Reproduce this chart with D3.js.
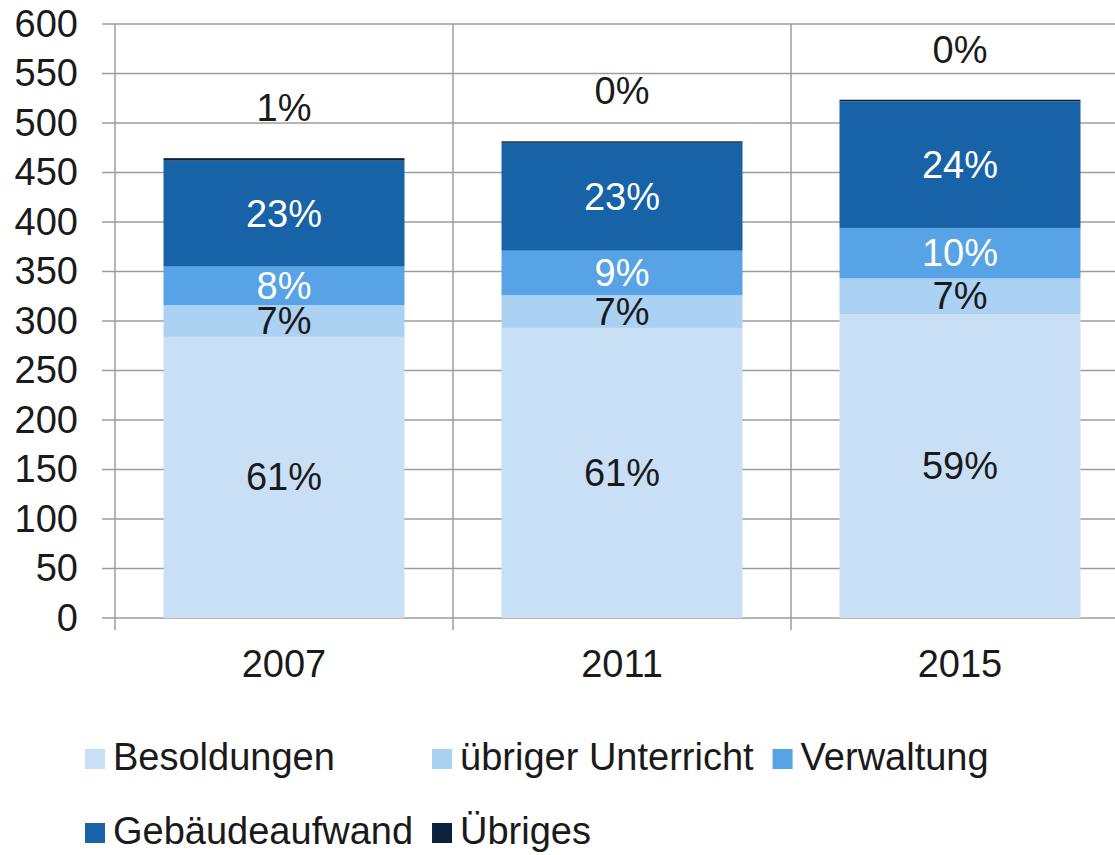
<!DOCTYPE html>
<html>
<head>
<meta charset="utf-8">
<script src="https://cdn.jsdelivr.net/npm/d3@7"></script>
<style>
  html, body { margin: 0; padding: 0; background: #fff; }
  svg { display: block; font-family: "Liberation Sans", Arial, Helvetica, sans-serif; }
</style>
</head>
<body>
<div id="chart"></div>
<script>
// data
var years = ["2007", "2011", "2015"];
var seriesNames = ["Besoldungen", "übriger Unterricht", "Verwaltung", "Gebäudeaufwand", "Übriges"];
var besoldungen = [284, 293, 307];
var uebrigerUnterricht = [32, 33, 36];
var verwaltung = [39, 45, 51];
var gebaeude = [107, 109, 128];
var uebriges = [2.5, 1.5, 1.5];
var yTicks = [0, 50, 100, 150, 200, 250, 300, 350, 400, 450, 500, 550, 600];

var colors = ["#c9dff5", "#abd1f3", "#58a2e6", "#1862a8", "#0b213c"];
var labelColors = ["#1a1a1a", "#1a1a1a", "#ffffff", "#ffffff", "#1a1a1a"];

var width = 1115, height = 855;
var plotLeft = 115, plotRight = 1129, plotTop = 24, plotBottom = 618;
var gridColor = "#9c9c9c";
var fontSize = 38;

var rows = years.map(function (y, i) {
  return {
    year: y,
    "Besoldungen": besoldungen[i],
    "übriger Unterricht": uebrigerUnterricht[i],
    "Verwaltung": verwaltung[i],
    "Gebäudeaufwand": gebaeude[i],
    "Übriges": uebriges[i]
  };
});

var svg = d3.select("#chart").append("svg")
  .attr("width", width)
  .attr("height", height);

var x = d3.scaleBand()
  .domain(years)
  .range([plotLeft, plotRight])
  .paddingInner(0.287)
  .paddingOuter(0.1435);

var y = d3.scaleLinear()
  .domain([0, 600])
  .range([plotBottom, plotTop]);

// horizontal gridlines
svg.append("g").selectAll("line")
  .data(yTicks)
  .enter().append("line")
  .attr("x1", plotLeft - 13)
  .attr("x2", width)
  .attr("y1", function (d) { return y(d); })
  .attr("y2", function (d) { return y(d); })
  .attr("stroke", gridColor)
  .attr("stroke-width", 1.5);

// vertical gridlines at category boundaries
var gap = (x.step() - x.bandwidth()) / 2;
var bounds = years.map(function (c) { return x(c) - gap; });
bounds.push(x(years[years.length - 1]) - gap + x.step());
svg.append("g").selectAll("line")
  .data(bounds)
  .enter().append("line")
  .attr("x1", function (d) { return d; })
  .attr("x2", function (d) { return d; })
  .attr("y1", plotTop)
  .attr("y2", plotBottom + 12)
  .attr("stroke", gridColor)
  .attr("stroke-width", 1.5);

// stacked bars
var stack = d3.stack().keys(seriesNames);
var stacked = stack(rows);

var layers = svg.append("g").selectAll("g")
  .data(stacked)
  .enter().append("g")
  .attr("fill", function (d, i) { return colors[i]; });

layers.selectAll("rect")
  .data(function (d) { return d; })
  .enter().append("rect")
  .attr("x", function (d) { return x(d.data.year); })
  .attr("width", x.bandwidth())
  .attr("y", function (d) { return y(d[1]); })
  .attr("height", function (d) { return y(d[0]) - y(d[1]); });

// percentage labels
function pct(d) {
  var total = d3.sum(seriesNames, function (k) { return d.data[k]; });
  return Math.round((d[1] - d[0]) / total * 100) + "%";
}

stacked.forEach(function (layer, li) {
  var last = li === stacked.length - 1;
  svg.append("g").selectAll("text")
    .data(layer)
    .enter().append("text")
    .attr("x", function (d) { return x(d.data.year) + x.bandwidth() / 2; })
    .attr("y", function (d) {
      return last ? y(d[1]) - 50 : (y(d[0]) + y(d[1])) / 2;
    })
    .attr("text-anchor", "middle")
    .attr("dominant-baseline", "central")
    .attr("font-size", fontSize)
    .attr("fill", labelColors[li])
    .text(pct);
});

// y axis
var yAxis = d3.axisLeft(y)
  .tickValues(yTicks)
  .tickSize(13)
  .tickPadding(24);
var ya = svg.append("g")
  .attr("transform", "translate(" + plotLeft + ",0)")
  .call(yAxis);
ya.select(".domain").remove();
ya.selectAll("line").remove();
ya.selectAll("text")
  .attr("font-size", fontSize)
  .attr("fill", "#1a1a1a")
  .attr("font-family", "Liberation Sans, Arial, sans-serif");

// x axis labels
svg.append("g").selectAll("text")
  .data(years)
  .enter().append("text")
  .attr("x", function (d) { return x(d) + x.bandwidth() / 2; })
  .attr("y", 677)
  .attr("text-anchor", "middle")
  .attr("font-size", fontSize)
  .attr("fill", "#1a1a1a")
  .text(function (d) { return d; });

// legend in a 3-column grid
var legend = svg.append("g");
var legendLeft = 85, rowBase = [770, 844], nCols = 3;
var items = legend.selectAll("g")
  .data(seriesNames)
  .enter().append("g");
items.append("rect")
  .attr("width", 20)
  .attr("height", 20)
  .attr("y", -21)
  .attr("fill", function (d, i) { return colors[i]; });
items.append("text")
  .attr("x", 28)
  .attr("font-size", fontSize)
  .attr("fill", "#1a1a1a")
  .text(function (d) { return d; });

var colW = [0, 0, 0];
items.each(function (d, i) {
  var w = d3.select(this).select("text").node().getComputedTextLength();
  colW[i % nCols] = Math.max(colW[i % nCols], w);
});
var colX = [legendLeft];
for (var c = 1; c < nCols; c++) colX.push(colX[c - 1] + 28 + colW[c - 1] + 19);
items.attr("transform", function (d, i) {
  return "translate(" + colX[i % nCols] + "," + rowBase[Math.floor(i / nCols)] + ")";
});
</script>
</body>
</html>
